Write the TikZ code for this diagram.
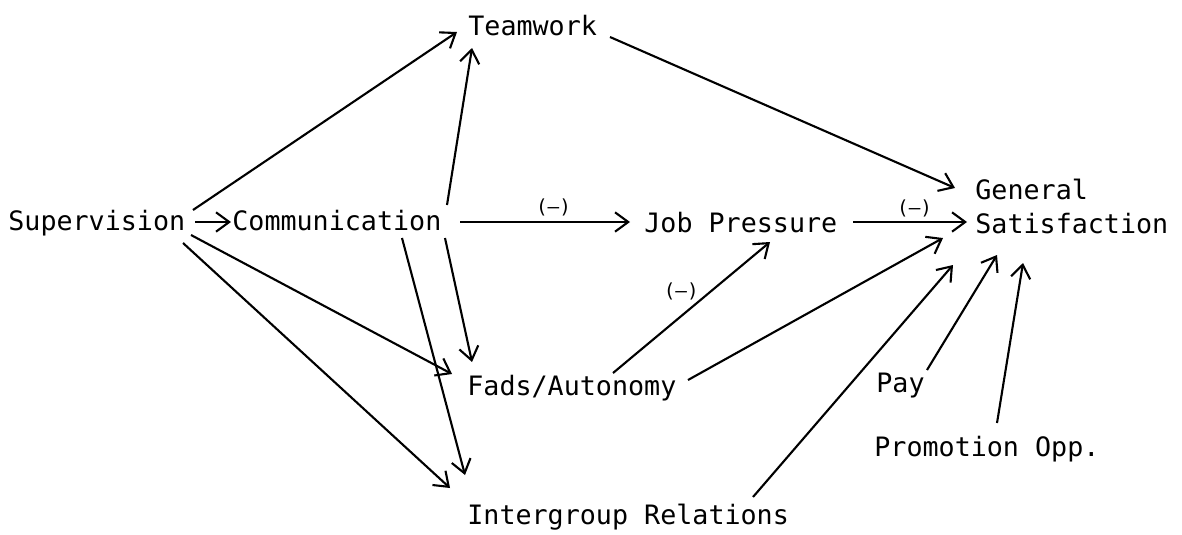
\documentclass[tikz,border=0pt]{standalone}
\usepackage{fontspec}
\newfontfamily\typewriter{DejaVu Sans Mono}
\usetikzlibrary{arrows.meta}
\tikzset{
  var/.style={inner sep=0pt, anchor=base west, font=\typewriter\fontsize{15.2}{19.3}\selectfont},
  sign/.style={inner sep=1pt, font=\typewriter\fontsize{11}{13}\selectfont},
  link/.style={-{Straight Barb[length=7.5pt,width=11pt]}, line width=1.2pt}
}
\begin{document}
\begin{tikzpicture}[x=0.02cm, y=-0.02cm]
  \useasboundingbox (0,0) rectangle (1182,534);
  \draw
    (8,230) node[var] (sup){Supervision}
    (232,230) node[var] (com){Communication}
    (468,35) node[var] (team){Teamwork}
    (644,232) node[var] (job){Job Pressure}
    (975,179) node[var, anchor=north west, align=left] (gen){General\\Satisfaction}
    (467,395) node[var] (fads){Fads/Autonomy}
    (467,524) node[var] (inter){Intergroup Relations}
    (876,392) node[var] (pay){Pay}
    (874,456) node[var] (promo){Promotion Opp.};
  \begin{scope}[link]
    \draw ([shift={(185,-20)}]sup.base west) to ([shift={(-11,-3)}]team.base west);
    \draw ([shift={(187,-8)}]sup.base west) to ([shift={(-1,-8)}]com.base west);
    \draw ([shift={(183,5)}]sup.base west) to ([shift={(-15,-21)}]fads.base west);
    \draw ([shift={(175,13)}]sup.base west) to ([shift={(-17,-36)}]inter.base west);
    \draw ([shift={(215,-25)}]com.base west) to ([shift={(4,13)}]team.base west);
    \draw ([shift={(213,8)}]com.base west) to ([shift={(5,-33)}]fads.base west);
    \draw ([shift={(170,8)}]com.base west) to ([shift={(-2,-49)}]inter.base west);
    \draw ([shift={(228,-8)}]com.base west) to node[sign, pos=0.55, above=2pt]{(—)} ([shift={(-14,-10)}]job.base west);
    \draw ([shift={(142,2)}]team.base west) to ([shift={(-20,9)}]gen.north west);
    \draw ([shift={(209,-10)}]job.base west) to node[sign, pos=0.54, above=1pt]{(—)} ([shift={(-8,43)}]gen.north west);
    \draw ([shift={(146,-22)}]fads.base west) to node[sign, pos=0.62, left=5pt]{(—)} ([shift={(126,10)}]job.base west);
    \draw ([shift={(221,-15)}]fads.base west) to ([shift={(-32,59)}]gen.north west);
    \draw ([shift={(286,-27)}]inter.base west) to ([shift={(-22,86)}]gen.north west);
    \draw ([shift={(51,-22)}]pay.base west) to ([shift={(22,76)}]gen.north west);
    \draw ([shift={(123,-33)}]promo.base west) to ([shift={(48,84)}]gen.north west);
  \end{scope}
\end{tikzpicture}
\end{document}
